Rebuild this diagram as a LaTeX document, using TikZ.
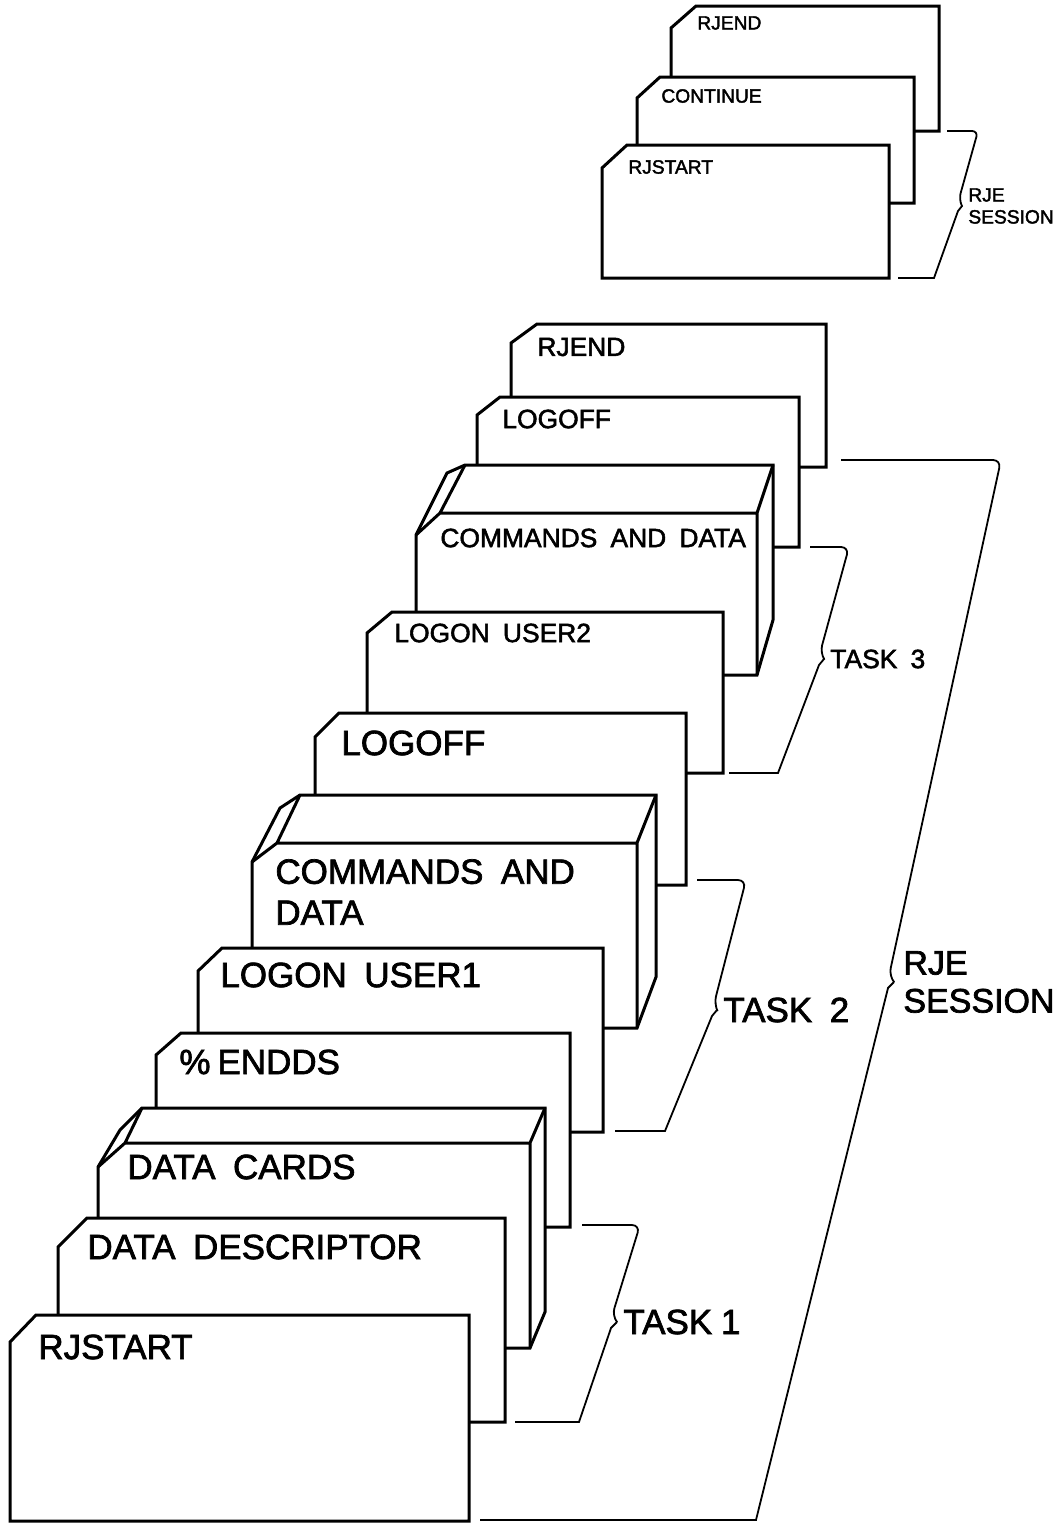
\documentclass[tikz,border=0pt]{standalone}
\usepackage{fontspec}
\setmainfont{Liberation Sans}[WordSpace=1.8, FakeBold=2]

\begin{document}
\begin{tikzpicture}[x=0.5pt, y=-0.5pt,
    card/.style={draw, fill=white, line width=1.5pt},
    bracelink/.style={line width=0.9pt, rounded corners=4pt},
    smalltext/.style={font=\fontsize{9.6}{11}\selectfont, anchor=west, inner sep=0pt, align=left},
    midtext/.style={font=\fontsize{13.2}{16}\selectfont, anchor=west, inner sep=0pt, align=left},
    bigtext/.style={font=\fontsize{17.5}{20.5}\selectfont, anchor=west, inner sep=0pt, align=left}]
    \useasboundingbox (0,0) rectangle (1062,1523);

    % short deck
    \draw[card] (671,131) -- (671,28) -- (696,6) -- (939,6) -- (939,131) -- cycle;
    \node[smalltext] (tjend) at (697,23) {RJEND};
    \draw[card] (637,203) -- (637,98) -- (660,77) -- (914,77) -- (914,203) -- cycle;
    \node[smalltext] (tcont) at (661,96) {CONTINUE};
    \draw[card] (602,278) -- (602,168) -- (627,145) -- (889,145) -- (889,278) -- cycle;
    \node[smalltext] (tstart) at (628,167) {RJSTART};
    \node[smalltext, inner xsep=3pt] (tsession) at (962,206) {RJE\\SESSION};
    \draw[bracelink, rounded corners=3pt] (947,131) -- (978,131) -- (959,199) [sharp corners] -- (tsession.west) -- (958,211) -- (934,278) [rounded corners=3pt] -- (898,278);

    % long deck, back to front
    \draw[card] (511,467) -- (511,343) -- (537,324) -- (826,324) -- (826,467) -- cycle;
    \node[midtext] (rjend) at (537,347) {RJEND};
    \draw[card] (477,547) -- (477,415) -- (500,397) -- (799,397) -- (799,547) -- cycle;
    \node[midtext] (logoffb) at (502,419) {LOGOFF};
    \draw[card] (416,675) -- (416,535) -- (447,473) -- (465,465) -- (773,465) -- (773,620) -- (757,675) -- cycle;
    \draw[card, fill=none] (416,535) -- (440,513) -- (757,513) -- (757,675) (440,513) -- (465,465) (757,513) -- (773,465);
    \node[midtext] (cmdsb) at (440,538) {COMMANDS AND DATA};
    \draw[card] (367,773) -- (367,633) -- (392,612) -- (723,612) -- (723,773) -- cycle;
    \node[midtext] (logonb) at (394,633) {LOGON USER2};
    \draw[card] (315,885) -- (315,737) -- (339,713) -- (686,713) -- (686,885) -- cycle;
    \node[bigtext] (logoffa) at (341,743) {LOGOFF};
    \draw[card] (252,1028) -- (252,862) -- (280,808) -- (300,795) -- (656,795) -- (656,977) -- (637,1028) -- cycle;
    \draw[card, fill=none] (252,862) -- (277,843) -- (637,843) -- (637,1028) (277,843) -- (300,795) (637,843) -- (656,795);
    \node[bigtext] (cmdsa) at (275,892) {COMMANDS AND\\DATA};
    \draw[card] (198,1132) -- (198,971) -- (222,948) -- (603,948) -- (603,1132) -- cycle;
    \node[bigtext] (logona) at (220,975) {LOGON USER1};
    \draw[card] (156,1227) -- (156,1055) -- (181,1033) -- (570,1033) -- (570,1227) -- cycle;
    \node[bigtext] (endds) at (179,1062) {\%\hspace{0.2em}ENDDS};
    \draw[card] (98,1348) -- (98,1167) -- (120,1130) -- (142,1108) -- (545,1108) -- (545,1312) -- (530,1348) -- cycle;
    \draw[card, fill=none] (98,1167) -- (125,1143) -- (530,1143) -- (530,1348) (125,1143) -- (142,1108) (530,1143) -- (545,1108);
    \node[bigtext] (datacards) at (127,1167) {DATA CARDS};
    \draw[card] (58,1422) -- (58,1247) -- (87,1218) -- (505,1218) -- (505,1422) -- cycle;
    \node[bigtext] (descr) at (87,1247) {DATA DESCRIPTOR};
    \draw[card] (10,1521) -- (10,1342) -- (36,1315) -- (469,1315) -- (469,1521) -- cycle;
    \node[bigtext] (rjstart) at (38,1347) {RJSTART};

    % braces
    \node[midtext, inner xsep=3pt] (task3) at (824,659) {TASK 3};
    \node[bigtext, inner xsep=3pt] (task2) at (717,1010) {TASK 2};
    \node[bigtext, inner xsep=3pt] (task1) at (617,1322) {TASK\hspace{0.25em}1};
    \node[bigtext, inner xsep=4.5pt, font=\fontsize{17}{19}\selectfont] (session) at (894,982) {RJE\\SESSION};

    \draw[bracelink] (810,547) -- (849,547) -- (820,653) [sharp corners] -- (task3.west) -- (819,665) -- (778,773) [rounded corners=4pt] -- (729,773);
    \draw[bracelink] (697,880) -- (746,880) -- (714,1004) [sharp corners] -- (task2.west) -- (712,1016) -- (665,1131) [rounded corners=4pt] -- (615,1131);
    \draw[bracelink] (582,1225) -- (640,1225) -- (612,1316) [sharp corners] -- (task1.west) -- (611,1328) -- (579,1422) [rounded corners=4pt] -- (515,1422);
    \draw[bracelink] (841,460) -- (1001,460) -- (889,976) [sharp corners] -- (session.west) -- (888,988) -- (756,1520) [rounded corners=4pt] -- (480,1520);
\end{tikzpicture}
\end{document}
